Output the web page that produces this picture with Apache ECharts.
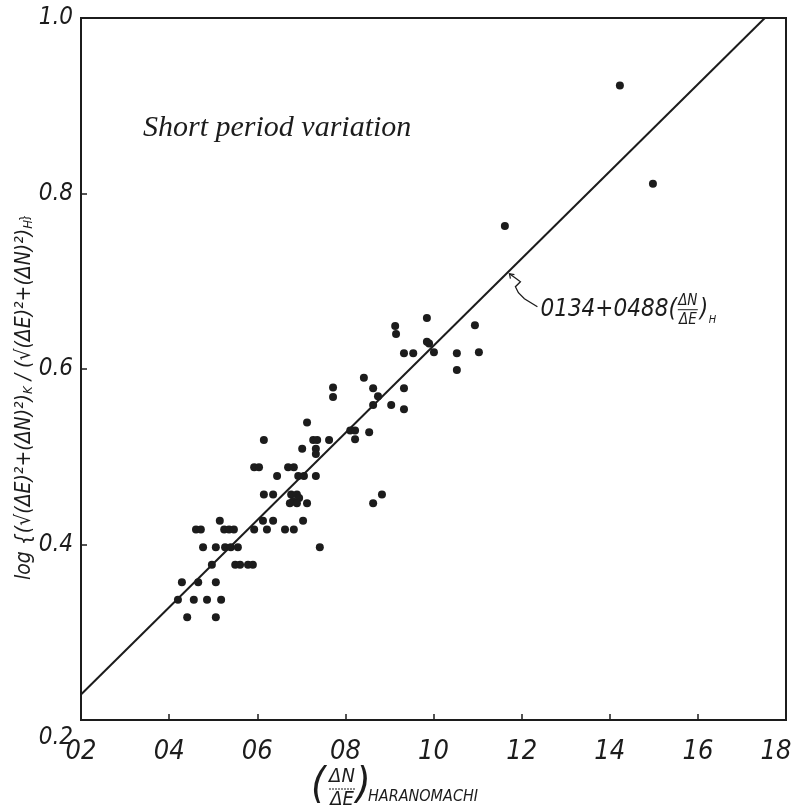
<!DOCTYPE html>
<html><head><meta charset="utf-8">
<script src="https://cdn.jsdelivr.net/npm/echarts@6/dist/echarts.min.js"></script>
<style>html,body{margin:0;padding:0;background:#fff}#c{width:798px;height:808px}</style>
</head><body><div id="c"></div>
<script>
// ---- data ----
const xTickLabels = ['02','04','06','08','10','12','14','16','18'];
const yTickLabels = ['0.2','0.4','0.6','0.8','1.0'];
const pointX = [0.615,0.593,0.604,0.645,0.615,0.636,0.515,0.461,0.472,0.525,0.536,0.547,0.593,0.613,0.636,0.622,
  0.477,0.506,0.527,0.540,0.556,0.497,0.550,0.561,0.579,0.590,0.429,0.466,0.506,0.420,0.456,0.486,0.518,0.441,0.506,
  0.842,0.863,0.874,0.863,0.904,0.933,0.933,0.772,0.772,0.713,0.811,0.822,0.854,0.822,0.727,0.736,0.763,0.702,0.733,0.733,
  0.670,0.683,0.693,0.706,0.733,0.677,0.690,0.681,0.695,0.674,0.690,0.713,0.863,0.883,0.704,0.663,0.683,0.742,
  0.985,0.913,0.915,1.094,0.985,0.990,0.933,0.954,1.001,1.053,1.103,1.053,1.162,1.423,1.498];
const pointY = [0.519,0.488,0.488,0.478,0.457,0.457,0.427,0.417,0.417,0.417,0.417,0.417,0.417,0.427,0.427,0.417,
  0.397,0.397,0.397,0.397,0.397,0.377,0.377,0.377,0.377,0.377,0.357,0.357,0.357,0.337,0.337,0.337,0.337,0.317,0.317,
  0.590,0.578,0.569,0.559,0.559,0.578,0.554,0.579,0.568,0.539,0.530,0.530,0.528,0.520,0.519,0.519,0.519,0.509,0.509,0.503,
  0.488,0.488,0.478,0.478,0.478,0.457,0.457,0.449,0.453,0.447,0.447,0.447,0.447,0.457,0.427,0.417,0.417,0.397,
  0.658,0.649,0.640,0.650,0.631,0.629,0.618,0.618,0.619,0.618,0.619,0.599,0.763,0.923,0.811];
const fitX = [0.2, 1.752];
const fitY = [0.229, 1.0];
const annotX = 1.17; // where the leader touches the fitted line

// ---- chart ----
const FONT = "'Liberation Sans Narrow','DejaVu Sans Condensed','Liberation Sans',sans-serif";
const INK = '#1c1c1c';
const chart = echarts.init(document.getElementById('c'), null, {renderer:'canvas'});
const pts = pointX.map((x,i)=>[x, pointY[i]]);
const fit = fitX.map((x,i)=>[x, fitY[i]]);
const lastX = xTickLabels.length-1;

chart.setOption({
  backgroundColor:'#fff',
  animation:false,
  grid:{left:81,right:12,top:18,bottom:88,containLabel:false,outerBoundsMode:'none',
    show:true,borderColor:INK,borderWidth:2,backgroundColor:'transparent'},
  xAxis:{type:'value',min:0.2,max:1.8,interval:0.2,
    axisLine:{show:true,onZero:false,lineStyle:{color:INK,width:2}},
    axisTick:{show:true,inside:true,length:6,lineStyle:{color:INK,width:1.5}},
    splitLine:{show:false},
    axisLabel:{margin:18,color:INK,fontFamily:FONT,fontStyle:'italic',fontSize:27,hideOverlap:false,
      formatter:v=>{const i=Math.round((v-0.2)/0.2);return i===lastX?'{last|'+xTickLabels[i]+'}':xTickLabels[i];},
      rich:{last:{fontFamily:FONT,fontStyle:'italic',fontSize:27,color:INK,padding:[0,20,0,0]}}}
  },
  yAxis:{type:'value',min:0.2,max:1.0,interval:0.2,
    axisLine:{show:true,onZero:false,lineStyle:{color:INK,width:2}},
    axisTick:{show:true,inside:true,length:6,lineStyle:{color:INK,width:1.5}},
    splitLine:{show:false},
    axisLabel:{margin:8,color:INK,fontFamily:FONT,fontStyle:'italic',fontSize:24,hideOverlap:false,
      formatter:v=>{const i=Math.round((v-0.2)/0.2);return i===0?'{low|'+yTickLabels[i]+'}':yTickLabels[i];},
      rich:{low:{fontFamily:FONT,fontStyle:'italic',fontSize:24,color:INK,padding:[36,0,0,0]}}}
  },
  series:[
    {type:'line',data:fit,symbol:'none',lineStyle:{color:INK,width:2},z:2,silent:true},
    {type:'scatter',data:pts,symbol:'circle',symbolSize:8,itemStyle:{color:INK,opacity:1},z:3}
  ]
});

// annotation + titles
function yOnFit(x){return fitY[0]+(fitY[1]-fitY[0])*(x-fitX[0])/(fitX[1]-fitX[0]);}
const a = chart.convertToPixel({gridIndex:0},[annotX,yOnFit(annotX)]);
const ax = a[0], ay = a[1];
const ctx = document.createElement('canvas').getContext('2d');
function tw(t,f){ctx.font=f;return ctx.measureText(t).width;}
const fA = "italic 24px "+FONT;
const annText = '0134+0488(';
const tx0 = ax+32, ty0 = ay+38;
const wA = tw(annText,fA);
const fc = tx0+wA+11;
const rich = {t:{fontFamily:FONT,fontStyle:'italic',fontSize:21,fill:INK},
              s:{fontFamily:FONT,fontStyle:'italic',fontSize:13,fill:INK,verticalAlign:'bottom'}};
chart.setOption({graphic:[
  {type:'text',left:143,top:113,style:{text:'Short period variation',fill:INK,
      font:"italic 30px 'Liberation Serif','DejaVu Serif',serif"}},
  // y-axis title (rotated)
  {type:'text',x:25,y:398,rotation:Math.PI/2,style:{
    text:'{t|log {(√(ΔE)²+(ΔN)²)}{s|K}{t| / (√(ΔE)²+(ΔN)²)}{s|H}{t|}}',
    rich:rich,align:'center',verticalAlign:'middle'}},
  // leader
  {type:'polyline',shape:{points:[[ax+1,ay+2],[ax+8,ay+7],[ax+12,ay+10],[ax+7,ay+15],[ax+10,ay+21],[ax+16,ay+27],[ax+29,ay+35]]},
    style:{stroke:INK,lineWidth:1.3,fill:null}},
  {type:'polyline',shape:{points:[[ax+2,ay+7],[ax+1,ay+2],[ax+6,ay+3]]},style:{stroke:INK,lineWidth:1.2,fill:null}},
  {type:'text',x:tx0,y:ty0,style:{text:annText,fill:INK,font:fA,verticalAlign:'middle'}},
  {type:'text',x:fc,y:ty0-9,style:{text:'ΔN',fill:INK,font:"italic 15px "+FONT,align:'center',verticalAlign:'middle'}},
  {type:'line',shape:{x1:fc-10,y1:ty0,x2:fc+10,y2:ty0},style:{stroke:INK,lineWidth:1}},
  {type:'text',x:fc,y:ty0+10,style:{text:'ΔE',fill:INK,font:"italic 15px "+FONT,align:'center',verticalAlign:'middle'}},
  {type:'text',x:fc+12,y:ty0,style:{text:')',fill:INK,font:fA,verticalAlign:'middle'}},
  {type:'text',x:fc+21,y:ty0+10,style:{text:'H',fill:INK,font:"italic 11px "+FONT,verticalAlign:'middle'}},
  // x-axis title
  {type:'text',x:311,y:787,style:{text:'(',fill:INK,font:"italic 42px "+FONT,verticalAlign:'middle'}},
  {type:'text',x:342,y:777,style:{text:'ΔN',fill:INK,font:"italic 20px "+FONT,align:'center',verticalAlign:'middle'}},
  {type:'line',shape:{x1:329,y1:789,x2:355,y2:789},style:{stroke:INK,lineWidth:1,lineDash:[2,1]}},
  {type:'text',x:342,y:800,style:{text:'ΔE',fill:INK,font:"italic 20px "+FONT,align:'center',verticalAlign:'middle'}},
  {type:'text',x:356,y:787,style:{text:')',fill:INK,font:"italic 42px "+FONT,verticalAlign:'middle'}},
  {type:'text',x:368,y:797,style:{text:'HARANOMACHI',fill:INK,font:"italic 16px "+FONT,verticalAlign:'middle'}}
]});
</script></body></html>
